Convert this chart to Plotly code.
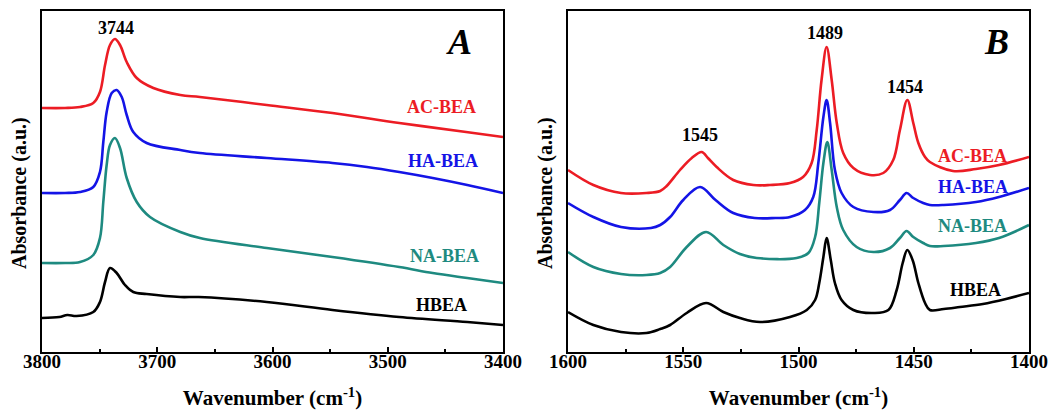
import plotly.graph_objects as go

# ---------------- Panel A : OH region (wavenumber, absorbance a.u.) ----------------
a_ac_w = [3800, 3780, 3767, 3755.5, 3749.7, 3745.3, 3741, 3736.7, 3732.3, 3726.5, 3717.8, 3703.4, 3680, 3663, 3605, 3548, 3490, 3432, 3400]
a_ac_y = [2.44, 2.44, 2.45, 2.49, 2.60, 2.87, 3.07, 3.13, 3.07, 2.90, 2.74, 2.64, 2.57, 2.55, 2.47, 2.39, 2.29, 2.20, 2.15]

a_ha_w = [3800, 3780, 3767, 3755.5, 3749.7, 3746.8, 3743.9, 3739.5, 3735.2, 3730.8, 3726.5, 3720.8, 3709.2, 3680, 3663, 3605, 3548, 3518, 3490, 3461, 3431, 3400]
a_ha_y = [1.59, 1.59, 1.60, 1.65, 1.80, 2.10, 2.40, 2.59, 2.62, 2.55, 2.37, 2.20, 2.09, 2.02, 1.99, 1.94, 1.89, 1.85, 1.80, 1.74, 1.67, 1.59]

a_na_w = [3800, 3780, 3767, 3755.5, 3749.7, 3746.8, 3743.9, 3741, 3736.7, 3732.3, 3726.5, 3717.8, 3706.3, 3680, 3663, 3605, 3548, 3490, 3461, 3431, 3400]
a_na_y = [0.89, 0.89, 0.90, 0.97, 1.14, 1.50, 1.87, 2.07, 2.14, 2.04, 1.74, 1.50, 1.35, 1.20, 1.14, 1.04, 0.95, 0.85, 0.79, 0.74, 0.69]

a_h_w = [3800, 3785, 3778, 3770, 3755.5, 3749.7, 3745.3, 3741, 3735.2, 3728, 3720.8, 3709.2, 3680, 3664, 3605, 3548, 3490, 3431, 3400]
a_h_y = [0.34, 0.35, 0.37, 0.36, 0.40, 0.50, 0.70, 0.84, 0.79, 0.67, 0.60, 0.58, 0.55, 0.55, 0.50, 0.42, 0.35, 0.30, 0.27]

# ---------------- Panel B : pyridine region ----------------
b_ac_w = [1600, 1589, 1577, 1566, 1560, 1557.2, 1551.4, 1546.3, 1542, 1539.3, 1535.5, 1528.3, 1519.6, 1512.4, 1503.7, 1498, 1494.3, 1492.1, 1490, 1487.8, 1485.6, 1483.4, 1480.6, 1476.2, 1469, 1463.2, 1458.9, 1456, 1452.8, 1450.2, 1448, 1445.1, 1443, 1433, 1423, 1413, 1400]
b_ac_y = [1.82, 1.67, 1.59, 1.59, 1.61, 1.66, 1.82, 1.94, 2.00, 1.94, 1.85, 1.72, 1.67, 1.67, 1.69, 1.75, 1.89, 2.22, 2.72, 3.05, 2.72, 2.29, 1.99, 1.84, 1.77, 1.79, 1.92, 2.22, 2.52, 2.29, 2.09, 1.95, 1.90, 1.81, 1.83, 1.87, 1.95]

b_ha_w = [1600, 1589, 1577, 1564, 1560, 1555.7, 1550, 1542.7, 1536, 1528.3, 1519, 1510, 1503.7, 1497.2, 1493.6, 1491.4, 1489.2, 1487.8, 1486.3, 1484.2, 1481.3, 1476.2, 1467.5, 1460.3, 1456, 1453.1, 1450.2, 1445.9, 1443, 1437, 1423, 1413, 1400]
b_ha_y = [1.49, 1.35, 1.25, 1.24, 1.27, 1.35, 1.52, 1.65, 1.52, 1.39, 1.34, 1.34, 1.35, 1.42, 1.55, 1.89, 2.35, 2.52, 2.29, 1.82, 1.59, 1.45, 1.40, 1.42, 1.52, 1.59, 1.54, 1.49, 1.47, 1.47, 1.50, 1.55, 1.64]

b_na_w = [1600, 1589, 1577, 1566, 1560, 1555.7, 1548.5, 1540.1, 1532.6, 1525.4, 1518.1, 1500.8, 1495.7, 1492.8, 1491, 1489.2, 1487.5, 1485.6, 1483.4, 1480.6, 1474.8, 1467.5, 1460.3, 1456, 1453.1, 1450.2, 1445.9, 1443, 1437, 1423, 1413, 1400]
b_na_y = [1.00, 0.85, 0.78, 0.77, 0.79, 0.85, 1.05, 1.20, 1.07, 0.98, 0.94, 0.94, 0.99, 1.15, 1.49, 1.89, 2.10, 1.82, 1.45, 1.22, 1.05, 1.00, 1.04, 1.14, 1.21, 1.15, 1.09, 1.06, 1.06, 1.09, 1.14, 1.27]

b_h_w = [1600, 1589, 1577, 1566, 1560, 1555.7, 1548.5, 1540.1, 1532.6, 1525.4, 1516.7, 1503.7, 1496.4, 1492.8, 1491, 1489.2, 1487.8, 1486, 1484.2, 1481.3, 1476.2, 1467.5, 1461, 1457.4, 1454.8, 1452.8, 1450.5, 1448, 1445.1, 1443, 1437, 1430, 1420, 1410, 1400]
b_h_y = [0.40, 0.27, 0.20, 0.19, 0.23, 0.27, 0.39, 0.49, 0.40, 0.34, 0.30, 0.35, 0.42, 0.52, 0.69, 0.95, 1.14, 0.92, 0.69, 0.52, 0.42, 0.39, 0.42, 0.62, 0.89, 1.02, 0.92, 0.69, 0.49, 0.42, 0.43, 0.45, 0.48, 0.53, 0.59]

names = ["AC-BEA", "HA-BEA", "NA-BEA", "HBEA"]
colors = ["#ec1c24", "#1414e6", "#1e8a80", "#000000"]

FONT = "Liberation Serif"

fig = go.Figure()

panel_a = [(a_ac_w, a_ac_y), (a_ha_w, a_ha_y), (a_na_w, a_na_y), (a_h_w, a_h_y)]
panel_b = [(b_ac_w, b_ac_y), (b_ha_w, b_ha_y), (b_na_w, b_na_y), (b_h_w, b_h_y)]

for (w, y), n, c in zip(panel_a, names, colors):
    fig.add_trace(go.Scatter(x=w, y=y, mode="lines", name=n, showlegend=False,
                             line=dict(color=c, width=2.6, shape="spline", smoothing=1.0),
                             xaxis="x", yaxis="y"))
for (w, y), n, c in zip(panel_b, names, colors):
    fig.add_trace(go.Scatter(x=w, y=y, mode="lines", name=n, showlegend=False,
                             line=dict(color=c, width=2.6, shape="spline", smoothing=1.0),
                             xaxis="x2", yaxis="y2"))

W, H = 1052, 417
ydom = [(H - 352) / H, (H - 11) / H]

def xax(dom, rng, dt, mdt):
    return dict(domain=dom, range=rng, dtick=dt, tick0=rng[1], ticks="inside", ticklen=5,
                tickwidth=1.5, tickcolor="black",
                minor=dict(ticks="inside", dtick=mdt, ticklen=3, tickwidth=1.5, tickcolor="black"),
                showline=True, mirror=True, linewidth=2, linecolor="black",
                showgrid=False, zeroline=False, automargin=False, ticklabelstandoff=-9,
                tickfont=dict(family=FONT, size=19, color="black", weight="bold"),
                title=dict(text="<b>Wavenumber (cm<sup>-1</sup>)</b>",
                           font=dict(family=FONT, size=21, color="black"), standoff=20))

def yax(anchor):
    return dict(domain=ydom, range=[0, 3.41], showticklabels=False, ticks="",
                showline=True, mirror=True, linewidth=2, linecolor="black",
                showgrid=False, zeroline=False, automargin=False, anchor=anchor)

fig.update_layout(
    width=W, height=H, margin=dict(l=0, r=0, t=0, b=0),
    paper_bgcolor="white", plot_bgcolor="white",
    xaxis=dict(**xax([42 / W, 503 / W], [3800, 3400], 100, 50), anchor="y"),
    yaxis=yax("x"),
    xaxis2=dict(**xax([568 / W, 1029 / W], [1600, 1400], 50, 25), anchor="y2"),
    yaxis2=yax("x2"),
)

ann = []
# y-axis titles
for xp in [19 / W, 545 / W]:
    ann.append(dict(text="<b>Absorbance (a.u.)</b>", xref="paper", yref="paper", x=xp, y=(H - 193) / H,
                    textangle=-90, showarrow=False, font=dict(family=FONT, size=20, color="black"),
                    xanchor="center", yanchor="middle"))

lab_a = [(3453, 2.45), (3452, 1.91), (3451, 0.96), (3453, 0.47)]
lab_b = [(1424.3, 1.96), (1424.3, 1.65), (1424.3, 1.26), (1423.4, 0.62)]
for (x, y), n, c in zip(lab_a, names, colors):
    ann.append(dict(text="<b>%s</b>" % n, x=x, y=y, xref="x", yref="y", showarrow=False,
                    font=dict(family=FONT, size=18, color=c)))
for (x, y), n, c in zip(lab_b, names, colors):
    ann.append(dict(text="<b>%s</b>" % n, x=x, y=y, xref="x2", yref="y2", showarrow=False,
                    font=dict(family=FONT, size=18, color=c)))

peaks = [("3744", 3735.8, 3.24, "x", "y"), ("1545", 1542.7, 2.17, "x2", "y2"),
         ("1489", 1488.5, 3.19, "x2", "y2"), ("1454", 1453.8, 2.65, "x2", "y2")]
for t, x, y, xr, yr in peaks:
    ann.append(dict(text="<b>%s</b>" % t, x=x, y=y, xref=xr, yref=yr, showarrow=False,
                    font=dict(family=FONT, size=18, color="black")))

ann.append(dict(text="<b><i>A</i></b>", x=3438, y=3.10, xref="x", yref="y", showarrow=False,
                font=dict(family=FONT, size=36, color="black")))
ann.append(dict(text="<b><i>B</i></b>", x=1414.3, y=3.10, xref="x2", yref="y2", showarrow=False,
                font=dict(family=FONT, size=36, color="black")))

fig.update_layout(annotations=ann)

fig.write_html("out.html")
